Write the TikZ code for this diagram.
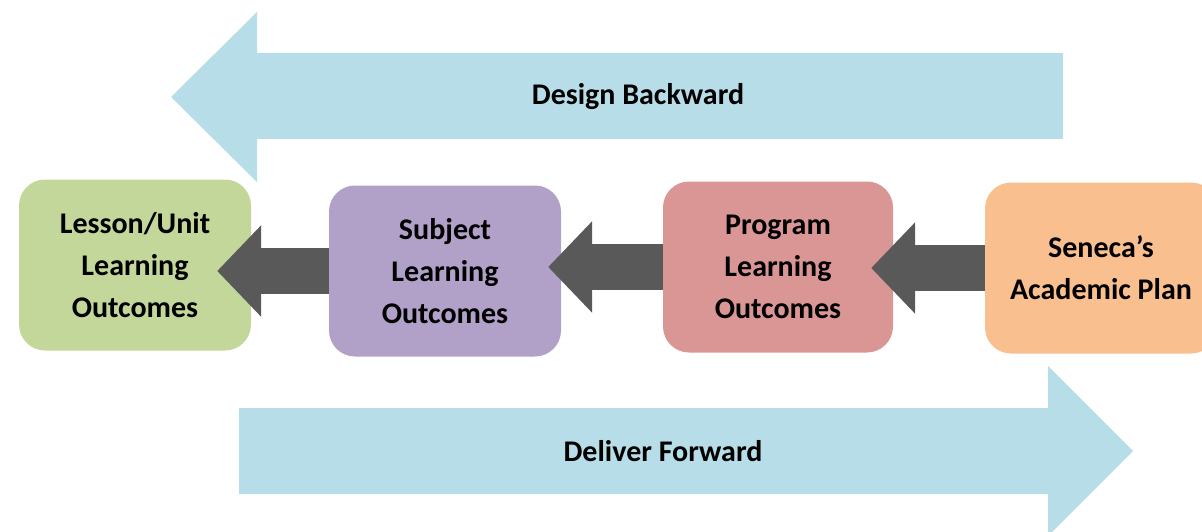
\documentclass[tikz,border=0pt]{standalone}
\usepackage{fontspec}
\setmainfont{Carlito}
\usetikzlibrary{arrows.meta}

\definecolor{lessoncol}{RGB}{196,215,155}
\definecolor{subjectcol}{RGB}{177,160,199}
\definecolor{programcol}{RGB}{218,150,148}
\definecolor{plancol}{RGB}{250,191,143}
\definecolor{flowcol}{RGB}{183,222,232}
\definecolor{pushcol}{RGB}{89,89,89}

\begin{document}
\begin{tikzpicture}[x=1pt,y=-1pt,
    font=\fontsize{30}{42}\selectfont\bfseries]
    \tikzstyle{box}=[rounded corners=26pt,align=center,inner sep=0pt,
      minimum width=232pt,minimum height=171pt]
    \tikzstyle{push}=[draw=pushcol,line width=46pt,
      -{Triangle[length=44pt,width=89pt]}]
    \tikzstyle{flow}=[fill=flowcol]

    \useasboundingbox (0,0) rectangle (1202,532);

    % big arrows
    \fill[flow] (1063,53) -- (257,53) -- (257,12) -- (171,97)
      -- (257,182) -- (257,139) -- (1063,139) -- cycle;
    \node (design) at (638,97) {Design Backward};
    \fill[flow] (239,408) -- (1048,408) -- (1048,366) -- (1133,451)
      -- (1048,536) -- (1048,494) -- (239,494) -- cycle;
    \node (deliver) at (663,451) {Deliver Forward};

    % boxes
    \node[box,fill=lessoncol] (lesson) at (135,265) {Lesson/Unit\\Learning\\Outcomes};
    \node[box,fill=subjectcol] (subject) at (445,271) {Subject\\Learning\\Outcomes};
    \node[box,fill=programcol,minimum width=230pt] (program) at (778,267) {Program\\Learning\\Outcomes};
    \node[box,fill=plancol] (plan) at (1101,268) {Seneca’s\\Academic Plan};

    \draw[push,shorten >=-22pt] (plan.west) -- (plan.west -| program.east);
    \draw[push,shorten >=-13pt] (program.west) -- (program.west -| subject.east);
    \draw[push,shorten >=-34pt] (subject.west) -- (subject.west -| lesson.east);

  \end{tikzpicture}
\end{document}
